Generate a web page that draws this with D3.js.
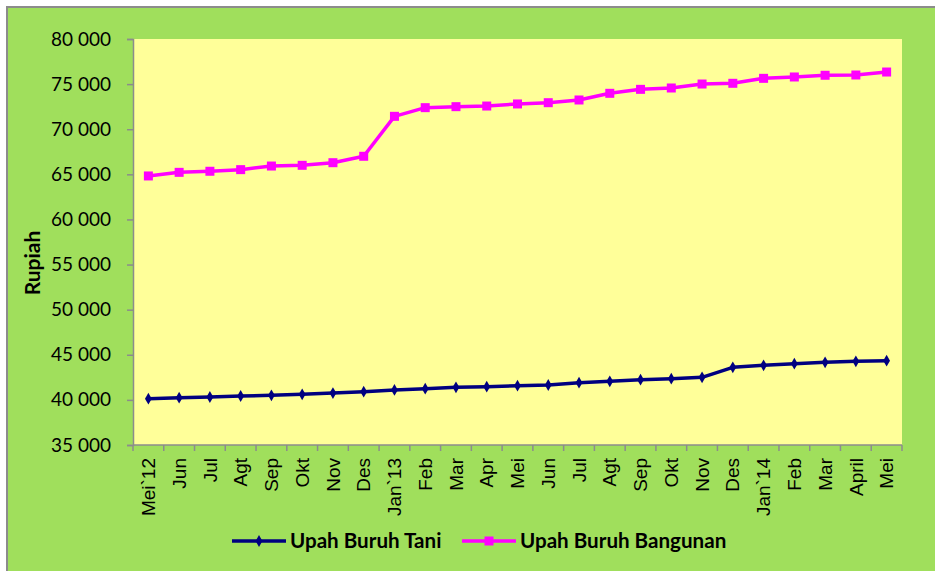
<!DOCTYPE html>
<html>
<head>
<meta charset="utf-8">
<script src="https://cdn.jsdelivr.net/npm/d3@7"></script>
<style>
  body { margin: 0; background: #fff; }
  svg { display: block; }
</style>
</head>
<body>
<div id="chart"></div>
<script>
// data
const months = ["Mei`12", "Jun", "Jul", "Agt", "Sep", "Okt", "Nov", "Des", "Jan`13", "Feb", "Mar", "Apr", "Mei",
  "Jun", "Jul", "Agt", "Sep", "Okt", "Nov", "Des", "Jan`14", "Feb", "Mar", "April", "Mei"]
const buruhTani = [40130, 40240, 40320, 40430, 40510, 40620, 40760, 40910, 41100, 41240, 41390, 41470, 41570,
  41650, 41910, 42060, 42240, 42350, 42500, 43610, 43830, 44010, 44170, 44280, 44350]
const buruhBangunan = [64820, 65220, 65340, 65520, 65920, 66000, 66290, 67000, 71430, 72390, 72500, 72570, 72800,
  72940, 73240, 73980, 74420, 74570, 75010, 75090, 75640, 75790, 75980, 76010, 76340]
const yTicks = [35000, 40000, 45000, 50000, 55000, 60000, 65000, 70000, 75000, 80000]
const seriesNames = ["Upah Buruh Tani", "Upah Buruh Bangunan"]

const W = 935, H = 571
const plot = { left: 133, right: 902, top: 39, bottom: 445 }

const svg = d3.select("#chart").append("svg")
  .attr("width", W)
  .attr("height", H)

// chart area (green) with grey border
svg.append("rect")
  .attr("x", 7).attr("y", 7)
  .attr("width", W + 10).attr("height", H + 10)
  .attr("fill", "#a0df5c")
  .attr("stroke", "#8c8c8c")
  .attr("stroke-width", 2)

// plot area
svg.append("rect")
  .attr("x", plot.left).attr("y", plot.top)
  .attr("width", plot.right - plot.left)
  .attr("height", plot.bottom - plot.top)
  .attr("fill", "#ffff99")

const x = d3.scaleBand()
  .domain(d3.range(months.length))
  .range([plot.left, plot.right])

const y = d3.scaleLinear()
  .domain([35000, 80000])
  .range([plot.bottom, plot.top])

const fmt = d3.formatLocale({ decimal: ",", thousands: " ", grouping: [3], currency: ["", ""] }).format(",")

// y axis
const yAxis = svg.append("g")
  .attr("transform", `translate(${plot.left},0)`)
  .call(d3.axisLeft(y).tickValues(yTicks).tickFormat(fmt).tickSize(6).tickPadding(16))
yAxis.selectAll("path, line").attr("stroke", "#8c8c8c").attr("stroke-width", 1.5)
yAxis.selectAll("text")
  .attr("font-family", "Lato, 'Open Sans', sans-serif")
  .attr("font-size", 19)
  .attr("fill", "#000")

// x axis: ticks sit between categories
const xAxis = svg.append("g")
  .attr("transform", `translate(0,${plot.bottom})`)
xAxis.append("line")
  .attr("x1", plot.left).attr("x2", plot.right)
  .attr("stroke", "#8c8c8c").attr("stroke-width", 1.5)
xAxis.selectAll("line.tick")
  .data(d3.range(months.length + 1))
  .join("line")
  .attr("class", "tick")
  .attr("x1", i => i < months.length ? x(i) : plot.right)
  .attr("x2", i => i < months.length ? x(i) : plot.right)
  .attr("y1", 0).attr("y2", 6)
  .attr("stroke", "#8c8c8c").attr("stroke-width", 1.5)
xAxis.selectAll("text")
  .data(months)
  .join("text")
  .attr("transform", (d, i) => `translate(${x(i) + x.bandwidth() / 2},13) rotate(-90)`)
  .attr("text-anchor", "end")
  .attr("dy", "0.35em")
  .attr("font-family", "'Liberation Sans', Arial, sans-serif")
  .attr("font-size", 19)
  .text(d => d)

// y axis title
svg.append("text")
  .attr("transform", "translate(33,263) rotate(-90)")
  .attr("text-anchor", "middle")
  .attr("dy", "0.35em")
  .attr("font-family", "Lato, 'Open Sans', sans-serif")
  .attr("font-weight", "bold")
  .attr("font-size", 21)
  .text("Rupiah")

const cx = i => x(i) + x.bandwidth() / 2
const line = d3.line().x((d, i) => cx(i)).y(d => y(d))

// Upah Buruh Bangunan (magenta, squares)
svg.append("path")
  .datum(buruhBangunan)
  .attr("d", line)
  .attr("fill", "none")
  .attr("stroke", "#ff00ff")
  .attr("stroke-width", 3.5)
  .attr("stroke-linejoin", "round")
svg.selectAll("rect.sq")
  .data(buruhBangunan)
  .join("rect")
  .attr("class", "sq")
  .attr("x", (d, i) => cx(i) - 4.5)
  .attr("y", d => y(d) - 4.5)
  .attr("width", 9).attr("height", 9)
  .attr("fill", "#ff00ff")

// Upah Buruh Tani (navy, diamonds)
const diamond = d3.symbol().type(d3.symbolDiamond).size(40)
svg.append("path")
  .datum(buruhTani)
  .attr("d", line)
  .attr("fill", "none")
  .attr("stroke", "#000080")
  .attr("stroke-width", 3.5)
  .attr("stroke-linejoin", "round")
svg.selectAll("path.dm")
  .data(buruhTani)
  .join("path")
  .attr("class", "dm")
  .attr("d", diamond)
  .attr("transform", (d, i) => `translate(${cx(i)},${y(d)})`)
  .attr("fill", "#000080")

// legend
const legend = svg.append("g").attr("transform", "translate(0,541)")
const items = [
  { name: seriesNames[0], color: "#000080", x0: 232, marker: "diamond" },
  { name: seriesNames[1], color: "#ff00ff", x0: 462, marker: "square" }
]
items.forEach(it => {
  legend.append("line")
    .attr("x1", it.x0).attr("x2", it.x0 + 54)
    .attr("stroke", it.color).attr("stroke-width", 3.5)
  if (it.marker === "diamond") {
    legend.append("path")
      .attr("d", diamond)
      .attr("transform", `translate(${it.x0 + 27},0)`)
      .attr("fill", it.color)
  } else {
    legend.append("rect")
      .attr("x", it.x0 + 27 - 4.5).attr("y", -4.5)
      .attr("width", 9).attr("height", 9)
      .attr("fill", it.color)
  }
  legend.append("text")
    .attr("x", it.x0 + 58)
    .attr("dy", "0.35em")
    .attr("font-family", "Lato, 'Open Sans', sans-serif")
    .attr("font-weight", "bold")
    .attr("font-size", 20.6)
    .text(it.name)
})
</script>
</body>
</html>
